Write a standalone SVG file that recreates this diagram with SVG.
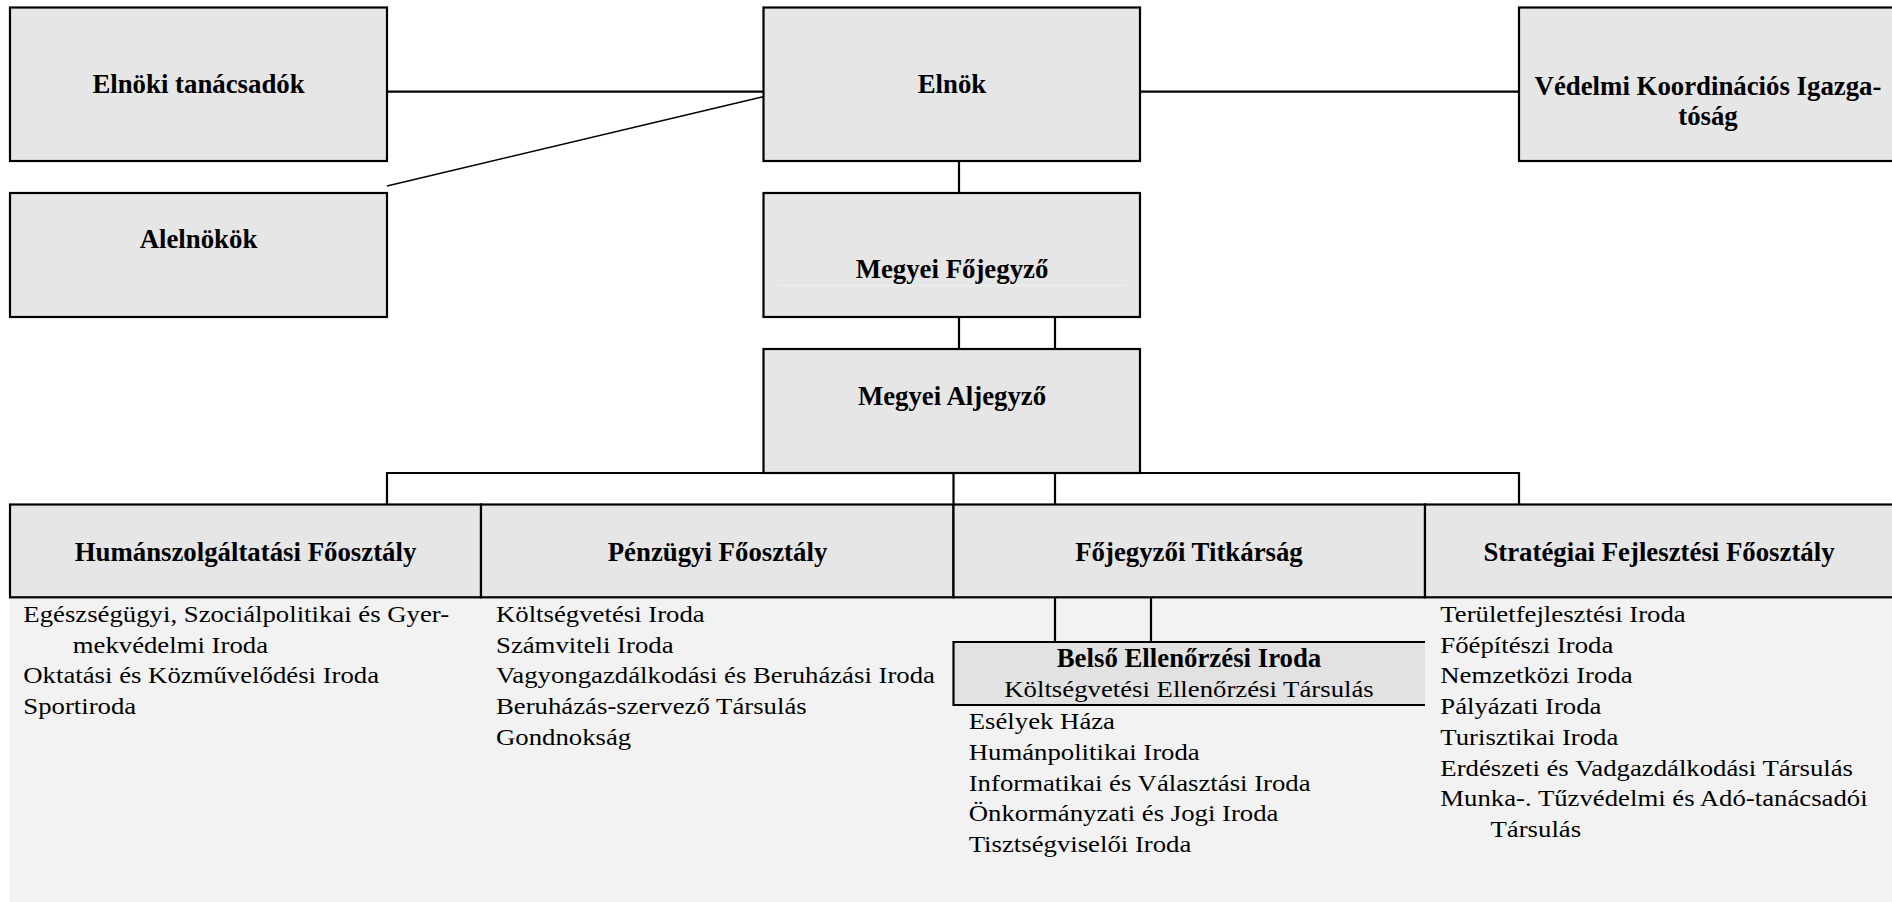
<svg xmlns="http://www.w3.org/2000/svg" width="1892" height="902" viewBox="0 0 1892 902">
<style>
.box{fill:#e6e6e6;stroke:#000;stroke-width:2.2}
.b{font-family:"Liberation Serif","Times New Roman",serif;font-weight:bold;font-size:26.8px;fill:#000;text-anchor:middle}
.r{font-family:"Liberation Serif","Times New Roman",serif;font-size:24px;fill:#000}
.m{text-anchor:middle}
.c line,.c path{stroke:#000;stroke-width:2.2;fill:none}
</style>
<rect width="1892" height="902" fill="#fff"/>
<rect x="10" y="597" width="1882" height="305" fill="#f2f2f2"/>
<g id="connectors" class="c">
<line x1="387" y1="91.7" x2="763" y2="91.7"/>
<line x1="387" y1="186" x2="763" y2="96.7" style="stroke-width:1.4"/>
<line x1="1140" y1="91.7" x2="1519" y2="91.7"/>
<line x1="959" y1="161" x2="959" y2="193"/>
<line x1="959" y1="317" x2="959" y2="349"/>
<line x1="1055" y1="317" x2="1055" y2="349"/>
<path d="M387 504V473H1519V504M953.5 473V504M1055 473V504"/>
<path d="M1055 597V642M1151 597V642"/>
</g>
<g id="elnoki-tanacsadok">
<rect class="box" x="10" y="7.5" width="377" height="153.5"/>
<text class="b" x="198.5" y="92.7">Elnöki tanácsadók</text>
</g>
<g id="alelnokok">
<rect class="box" x="10" y="193" width="377" height="124"/>
<text class="b" x="198.5" y="248">Alelnökök</text>
</g>
<g id="elnok">
<rect class="box" x="763.5" y="7.5" width="376.5" height="153.5"/>
<text class="b" x="952" y="93.3">Elnök</text>
</g>
<g id="megyei-fojegyzo">
<rect class="box" x="763.5" y="193" width="376.5" height="124"/>
<line x1="778" y1="285.7" x2="1127" y2="285.7" stroke="#efefef" stroke-width="1"/>
<text class="b" x="952" y="278.3">Megyei Főjegyző</text>
</g>
<g id="megyei-aljegyzo">
<rect class="box" x="763.5" y="349" width="376.5" height="124"/>
<text class="b" x="952" y="405">Megyei Aljegyző</text>
</g>
<g id="vedelmi">
<rect class="box" x="1519" y="7.5" width="380" height="153.5"/>
<text class="b" x="1708" y="94.5">Védelmi Koordinációs Igazga-</text>
<text class="b" x="1708" y="124.5">tóság</text>
</g>
<g id="humanszolgaltatasi">
<rect class="box" x="10" y="504.5" width="471" height="92.8"/>
<text class="b" x="245.5" y="561">Humánszolgáltatási Főosztály</text>
<text class="r" transform="translate(23.3 622) scale(1.115 1)">Egészségügyi, Szociálpolitikai és Gyer-</text>
<text class="r" transform="translate(72.7 652.7) scale(1.115 1)">mekvédelmi Iroda</text>
<text class="r" transform="translate(23.3 683.4) scale(1.115 1)">Oktatási és Közművelődési Iroda</text>
<text class="r" transform="translate(23.3 714.1) scale(1.115 1)">Sportiroda</text>
</g>
<g id="penzugyi">
<rect class="box" x="481" y="504.5" width="472.5" height="92.8"/>
<text class="b" x="717.5" y="561">Pénzügyi Főosztály</text>
<text class="r" transform="translate(496 622) scale(1.115 1)">Költségvetési Iroda</text>
<text class="r" transform="translate(496 652.7) scale(1.115 1)">Számviteli Iroda</text>
<text class="r" transform="translate(496 683.4) scale(1.115 1)">Vagyongazdálkodási és Beruházási Iroda</text>
<text class="r" transform="translate(496 714.1) scale(1.115 1)">Beruházás-szervező Társulás</text>
<text class="r" transform="translate(496 744.8) scale(1.115 1)">Gondnokság</text>
</g>
<g id="fojegyzoi-titkarsag">
<rect class="box" x="953.5" y="504.5" width="471.5" height="92.8"/>
<text class="b" x="1189" y="561">Főjegyzői Titkárság</text>
<text class="r" transform="translate(968.7 729.3) scale(1.115 1)">Esélyek Háza</text>
<text class="r" transform="translate(968.7 760) scale(1.115 1)">Humánpolitikai Iroda</text>
<text class="r" transform="translate(968.7 790.7) scale(1.115 1)">Informatikai és Választási Iroda</text>
<text class="r" transform="translate(968.7 821.4) scale(1.115 1)">Önkormányzati és Jogi Iroda</text>
<text class="r" transform="translate(968.7 852) scale(1.115 1)">Tisztségviselői Iroda</text>
</g>
<g id="belso-ellenorzesi">
<rect x="953.5" y="642" width="471.5" height="63" fill="#e2e2e2"/>
<path d="M1425 642H953.5V705H1425" fill="none" stroke="#000" stroke-width="2.2"/>
<text class="b" x="1189" y="667">Belső Ellenőrzési Iroda</text>
<text class="r m" transform="translate(1189 697) scale(1.115 1)">Költségvetési Ellenőrzési Társulás</text>
</g>
<g id="strategiai">
<rect class="box" x="1425" y="504.5" width="475" height="92.8"/>
<text class="b" x="1659" y="561">Stratégiai Fejlesztési Főosztály</text>
<text class="r" transform="translate(1440.3 622) scale(1.115 1)">Területfejlesztési Iroda</text>
<text class="r" transform="translate(1440.3 652.7) scale(1.115 1)">Főépítészi Iroda</text>
<text class="r" transform="translate(1440.3 683.4) scale(1.115 1)">Nemzetközi Iroda</text>
<text class="r" transform="translate(1440.3 714.1) scale(1.115 1)">Pályázati Iroda</text>
<text class="r" transform="translate(1440.3 744.8) scale(1.115 1)">Turisztikai Iroda</text>
<text class="r" transform="translate(1440.3 775.5) scale(1.115 1)">Erdészeti és Vadgazdálkodási Társulás</text>
<text class="r" transform="translate(1440.3 806.2) scale(1.115 1)">Munka-. Tűzvédelmi és Adó-tanácsadói</text>
<text class="r" transform="translate(1490.5 836.9) scale(1.115 1)">Társulás</text>
</g>
</svg>
